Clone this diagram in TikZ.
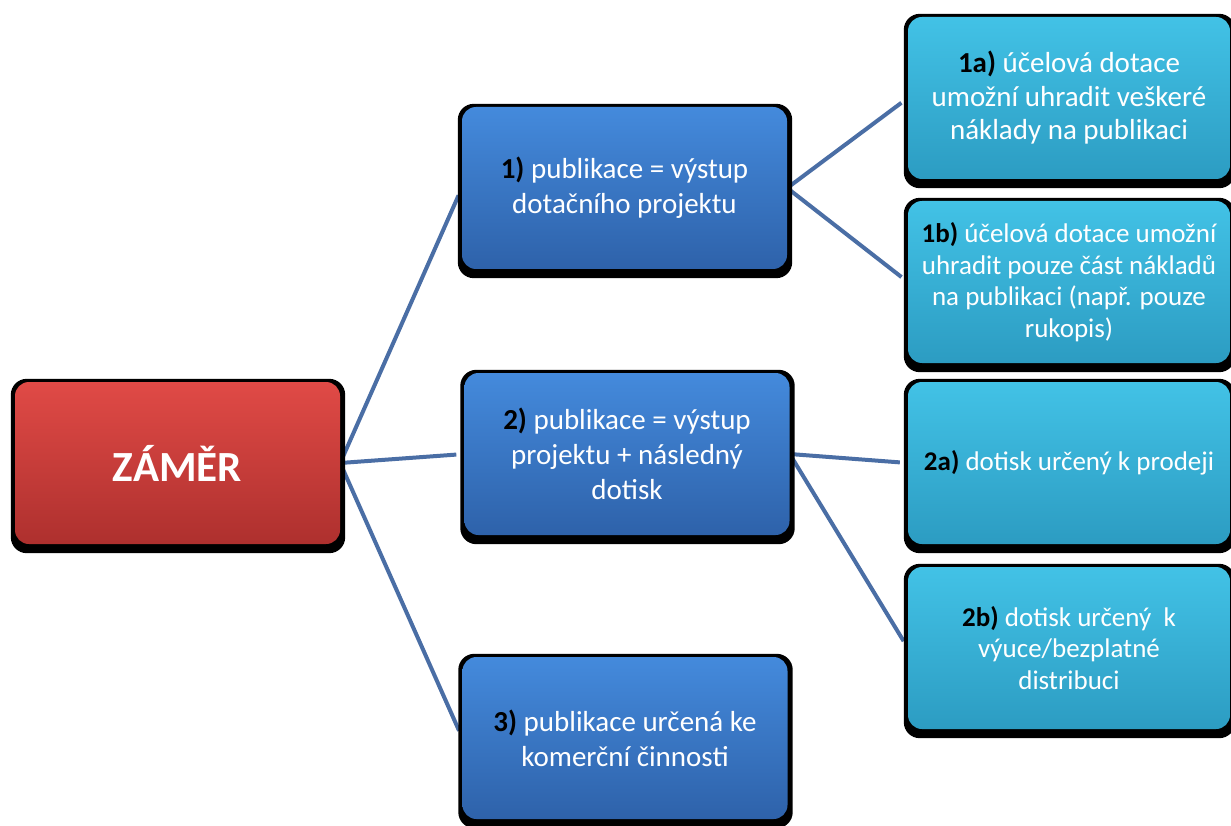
\documentclass[tikz,border=0pt]{standalone}
\usepackage{fontspec}
\setmainfont{Carlito}
\usetikzlibrary{backgrounds}
\pgfdeclarelayer{edges}
\pgfdeclarelayer{paper}
\pgfsetlayers{paper,edges,background,main}
\definecolor{redtop}{RGB}{224,74,70}
\definecolor{redbot}{RGB}{174,48,46}
\definecolor{bluetop}{RGB}{68,138,220}
\definecolor{bluebot}{RGB}{46,98,170}
\definecolor{cyantop}{RGB}{66,194,230}
\definecolor{cyanbot}{RGB}{44,156,194}
\definecolor{linkcol}{RGB}{74,110,165}
\newcommand{\num}[1]{\textbf{\textcolor{black}{#1}}}
\tikzset{
  boxbase/.style={rounded corners=14pt, text=white, align=center, inner sep=0pt,
    minimum width=325pt, minimum height=162pt},
  redbox/.style={boxbase, top color=redtop, bottom color=redbot,
    font=\fontsize{43}{50}\selectfont\bfseries},
  bluebox/.style={boxbase, top color=bluetop, bottom color=bluebot,
    font=\fontsize{29}{35}\selectfont},
  cyanbox/.style={boxbase, minimum width=322pt, top color=cyantop, bottom color=cyanbot,
    font=\fontsize{29}{33.5}\selectfont},
  cyansmall/.style={cyanbox, font=\fontsize{27}{31.5}\selectfont},
  link/.style={draw=linkcol, line width=4pt, shorten >=8pt},
  shadowbox/.style={fill=black, rounded corners=16pt}
}
\begin{document}
\begin{tikzpicture}[x=1pt,y=-1pt]
\useasboundingbox (0,0) rectangle (1231,826);
\begin{pgfonlayer}{paper}
  \fill[white] (0,0) rectangle (1231,826);
\end{pgfonlayer}

\node[redbox] (z) at (177.5,463) {ZÁMĚR};
\node[bluebox] (b1) at (624.5,188) {\num{1)} publikace = výstup\\dotačního projektu};
\node[bluebox] (b2) at (627,454) {\num{2)} publikace = výstup\\projektu + následný\\dotisk};
\node[bluebox] (b3) at (625,738) {\num{3)} publikace určená ke\\komerční činnosti};

\node[cyanbox] (c1a) at (1069,98) {\num{1a)} účelová dotace\\umožní uhradit veškeré\\náklady na publikaci};
\node[cyansmall] (c1b) at (1069,282) {\num{1b)} účelová dotace umožní\\uhradit pouze část nákladů\\na publikaci (např. pouze\\rukopis)};
\node[cyansmall] (c2a) at (1069,463) {\num{2a)} dotisk určený k prodeji};
\node[cyansmall] (c2b) at (1069,648) {\num{2b)} dotisk určený\ \ k\\výuce/bezplatné\\distribuci};

\begin{scope}[on background layer]
  \foreach \n in {z,b1,b2,b3,c1a,c1b,c2a,c2b}{
    \fill[shadowbox] ([shift={(-4,-3)}]\n.north west) rectangle ([shift={(5,9)}]\n.south east);
  }
\end{scope}

\begin{pgfonlayer}{edges}
  \draw[link] (z.east) -- (b1.west);
  \draw[link] (z.east) -- (b2.west);
  \draw[link] (z.east) -- (b3.west);
  \draw[link] (b1.east) -- (c1a.west);
  \draw[link] (b1.east) -- (c1b.west);
  \draw[link] (b2.east) -- (c2a.west);
  \draw[link] (b2.east) -- (c2b.west);
\end{pgfonlayer}
\end{tikzpicture}
\end{document}
